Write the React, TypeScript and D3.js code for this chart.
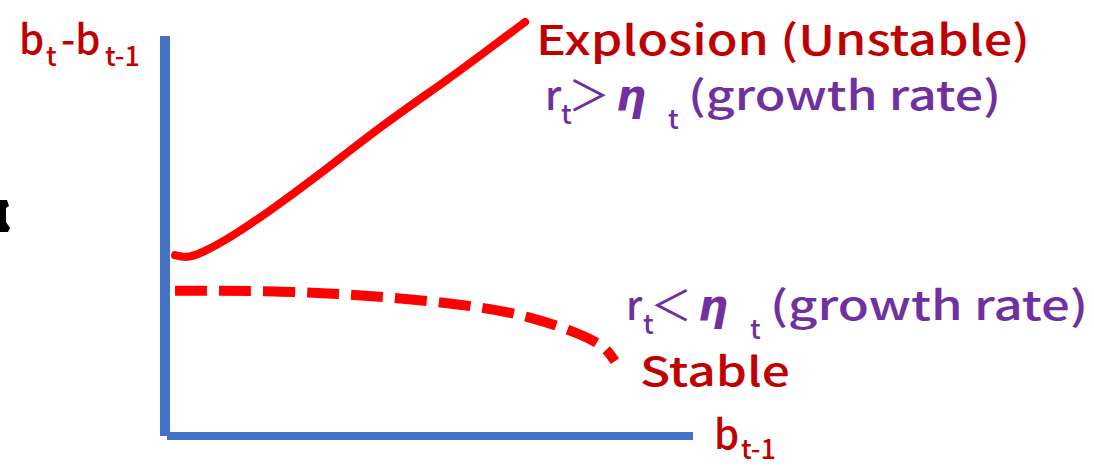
import React from "react";
import * as d3 from "d3";

const W = 1094;
const H = 466;

// Curves in abstract units (x: b_{t-1}, y: b_t - b_{t-1})
const explosionX = [0.19, 0.4, 0.66, 1.23, 1.99, 2.94, 4.07, 5.4, 6.16, 6.82];
const explosionY = [4.52, 4.45, 4.55, 4.95, 5.63, 6.55, 7.73, 8.95, 9.7, 10.35];
const stableX = [0.19, 2.23, 4.13, 6.02, 6.91, 7.67, 8.1, 8.35, 8.52];
const stableY = [3.63, 3.63, 3.5, 3.23, 2.98, 2.65, 2.4, 2.2, 1.87];

const xDomain = [0, 10];
const yDomain = [0, 10];

const BLUE = "#4472C4";
const RED = "#FF0000";
const DARKRED = "#C00000";
const PURPLE = "#7030A0";
const FONT = "'Noto Sans CJK JP', 'Noto Sans', sans-serif";
const ETA_FONT = "'DejaVu Sans', sans-serif";

export default function App() {
  const x = d3.scaleLinear().domain(xDomain).range([165, 693]);
  const y = d3.scaleLinear().domain(yDomain).range([436, 36]);

  const line = d3
    .line<[number, number]>()
    .x((d) => x(d[0]))
    .y((d) => y(d[1]))
    .curve(d3.curveBasis);

  const expPts = explosionX.map((v, i) => [v, explosionY[i]] as [number, number]);
  const stPts = stableX.map((v, i) => [v, stableY[i]] as [number, number]);

  return (
    <svg
      width={W}
      height={H}
      style={{ position: "absolute", left: 0, top: 0, background: "#fff" }}
      fontFamily={FONT}
      fontWeight={500}
    >
      <rect width={W} height={H} fill="#fff" />
      {/* axes */}
      <line x1={x(0)} x2={x(0)} y1={y(10)} y2={y(0)} stroke={BLUE} strokeWidth={10} />
      <line x1={x(0) + 2} x2={x(10)} y1={y(0)} y2={y(0)} stroke={BLUE} strokeWidth={8} />

      {/* curves */}
      <path d={line(expPts) || ""} fill="none" stroke={RED} strokeWidth={8} strokeLinecap="round" />
      <path
        d={line(stPts) || ""}
        fill="none"
        stroke={RED}
        strokeWidth={10}
        strokeDasharray="32 12"
      />

      {/* axis labels */}
      <text fill={DARKRED}>
        <tspan x={19} y={54} fontSize={40}>b</tspan>
        <tspan x={46} y={66} fontSize={27}>t</tspan>
        <tspan x={61} y={54} fontSize={40}>-b</tspan>
        <tspan x={105} y={66} fontSize={27}>t-1</tspan>
      </text>
      <text fill={DARKRED}>
        <tspan x={714} y={449} fontSize={40}>b</tspan>
        <tspan x={741} y={459} fontSize={27}>t-1</tspan>
      </text>

      {/* annotations */}
      <text x={536} y={55} fill={DARKRED} fontSize={41} textLength={494} lengthAdjust="spacingAndGlyphs">
        Explosion (Unstable)
      </text>
      <text fill={PURPLE}>
        <tspan x={545} y={110} fontSize={40}>r</tspan>
        <tspan x={561} y={124} fontSize={27}>t</tspan>
        <tspan x={568} y={111} fontSize={42} fontWeight={400}>＞</tspan>
        <tspan x={616} y={110} fontSize={42} fontStyle="italic" fontWeight="bold" fontFamily={ETA_FONT}>η</tspan>
        <tspan x={668} y={129} fontSize={27}>t</tspan>
        <tspan x={688} y={110} fontSize={40} textLength={313} lengthAdjust="spacingAndGlyphs">(growth rate)</tspan>
      </text>
      <text fill={PURPLE}>
        <tspan x={626} y={320} fontSize={40}>r</tspan>
        <tspan x={643} y={334} fontSize={27}>t</tspan>
        <tspan x={650} y={321} fontSize={42} fontWeight={400}>＜</tspan>
        <tspan x={698} y={320} fontSize={42} fontStyle="italic" fontWeight="bold" fontFamily={ETA_FONT}>η</tspan>
        <tspan x={750} y={339} fontSize={27}>t</tspan>
        <tspan x={770} y={320} fontSize={40} textLength={318} lengthAdjust="spacingAndGlyphs">(growth rate)</tspan>
      </text>
      <text x={640} y={386} fill={DARKRED} fontSize={40} textLength={150} lengthAdjust="spacingAndGlyphs">
        Stable
      </text>

      {/* clipped glyph fragment on left edge */}
      <path d="M0,200 L7,200 L9,206 L6,208 L6,222 L10,228 L8,232 L0,232 Z" fill="#000" />
    </svg>
  );
}
